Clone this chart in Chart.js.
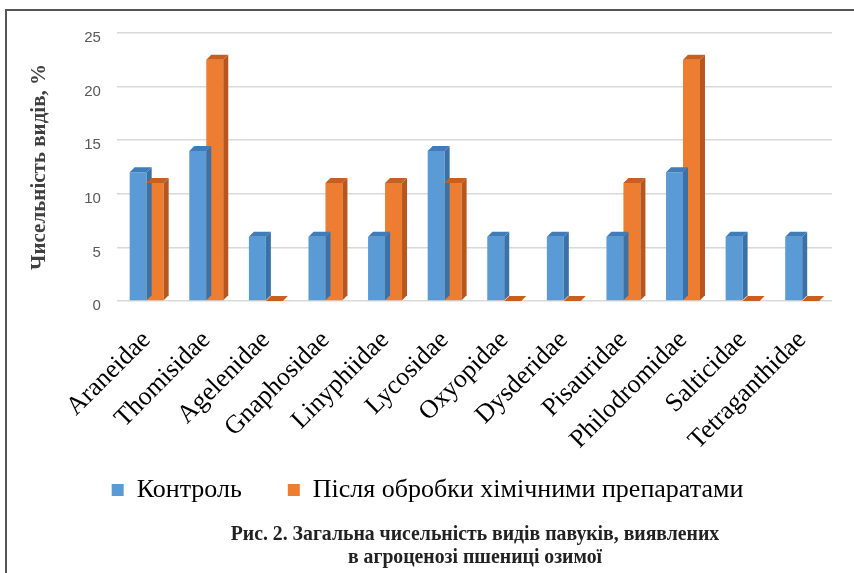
<!DOCTYPE html>
<html>
<head>
<meta charset="utf-8">
<script src="https://cdn.jsdelivr.net/npm/chart.js@4"></script>
<style>
  html, body { margin: 0; padding: 0; background: #fff; }
  #wrap { position: relative; width: 854px; height: 573px; }
  #frame { position: absolute; left: 5px; top: 9px; width: 849px; height: 564px;
           border-left: 2px solid #555; border-top: 2px solid #555; box-sizing: border-box; }
  canvas { position: absolute; left: 0; top: 0; }
  #caption { position: absolute; left: 475px; top: 522px; transform: translateX(-50%) scaleX(0.94);
             white-space: nowrap; text-align: center; color: #222;
             font: bold 21px/23px 'Liberation Serif', 'Times New Roman', serif; }
</style>
</head>
<body>
<div id="wrap">
  <div id="frame"></div>
  <canvas id="chart" width="854" height="573"></canvas>
  <div id="caption">Рис. 2. Загальна чисельність видів павуків, виявлених<br>в агроценозі пшениці озимої</div>
</div>
<script>
const families = ["Araneidae", "Thomisidae", "Agelenidae", "Gnaphosidae", "Linyphiidae", "Lycosidae",
  "Oxyopidae", "Dysderidae", "Pisauridae", "Philodromidae", "Salticidae", "Tetraganthidae"];
const control = [12, 14, 6, 6, 6, 14, 6, 6, 6, 12, 6, 6];
const treated = [11, 22.5, 0, 11, 11, 11, 0, 0, 11, 22.5, 0, 0];
const seriesNames = ["Контроль", "Після обробки хімічними препаратами"];

const serif = "'Liberation Serif', 'Times New Roman', serif";

// fake 3d: side and top faces on every bar
const depth = { dx: 5, dy: -5 };
const sideColors = ["#3a72a8", "#b9561b"];
const topColors = ["#3f7dba", "#c95f1f"];

const bars3d = {
  id: 'bars3d',
  afterDatasetsDraw(chart) {
    const ctx = chart.ctx;
    chart.data.datasets.forEach((ds, i) => {
      chart.getDatasetMeta(i).data.forEach(bar => {
        const p = bar.getProps(['x', 'y', 'base', 'width'], true);
        const l = p.x - p.width / 2, r = p.x + p.width / 2;
        ctx.save();
        // side
        ctx.fillStyle = sideColors[i];
        ctx.beginPath();
        ctx.moveTo(r, p.base);
        ctx.lineTo(r + depth.dx, p.base + depth.dy);
        ctx.lineTo(r + depth.dx, p.y + depth.dy);
        ctx.lineTo(r, p.y);
        ctx.closePath();
        ctx.fill();
        // top
        ctx.fillStyle = topColors[i];
        ctx.beginPath();
        ctx.moveTo(l, p.y);
        ctx.lineTo(l + depth.dx, p.y + depth.dy);
        ctx.lineTo(r + depth.dx, p.y + depth.dy);
        ctx.lineTo(r, p.y);
        ctx.closePath();
        ctx.fill();
        ctx.restore();
      });
    });
  }
};

new Chart(document.getElementById("chart"), {
  type: 'bar',
  data: {
    labels: families,
    datasets: [{
      label: seriesNames[0],
      backgroundColor: "#5b9bd5",
      data: control
    }, {
      label: seriesNames[1],
      backgroundColor: "#ed7d31",
      data: treated
    }]
  },
  plugins: [bars3d],
  options: {
    responsive: false,
    animation: false,
    layout: { padding: { top: 33, right: 22, left: 23, bottom: 60 } },
    datasets: { bar: { barPercentage: 1, categoryPercentage: 0.57 } },
    scales: {
      x: {
        grid: { display: false },
        border: { display: false },
        afterFit: (scale) => {
          // rotated labels are over-estimated; tighten the box, don't clip them
          scale.height -= 41;
          scale._computeLabelArea = () => undefined;
        },
        ticks: {
          color: '#000',
          minRotation: 45, maxRotation: 45,
          font: { family: serif, size: 26 },
          padding: 16
        }
      },
      y: {
        min: 0, max: 25,
        ticks: {
          stepSize: 5,
          color: '#595959',
          padding: 16,
          labelOffset: 5,
          font: { family: 'Liberation Sans', size: 15 }
        },
        grid: { color: '#d9d9d9', lineWidth: 1.5, drawTicks: false },
        border: { display: false },
        title: {
          display: true,
          text: 'Чисельність видів, %',
          color: '#404040',
          font: { family: serif, size: 21, weight: 'bold' },
          padding: { bottom: 16 }
        }
      }
    },
    plugins: {
      legend: {
        position: 'bottom',
        labels: {
          color: '#000',
          boxWidth: 12, boxHeight: 12,
          padding: 46,
          font: { family: serif, size: 26 }
        }
      },
      tooltip: { enabled: false }
    }
  }
});
</script>
</body>
</html>
